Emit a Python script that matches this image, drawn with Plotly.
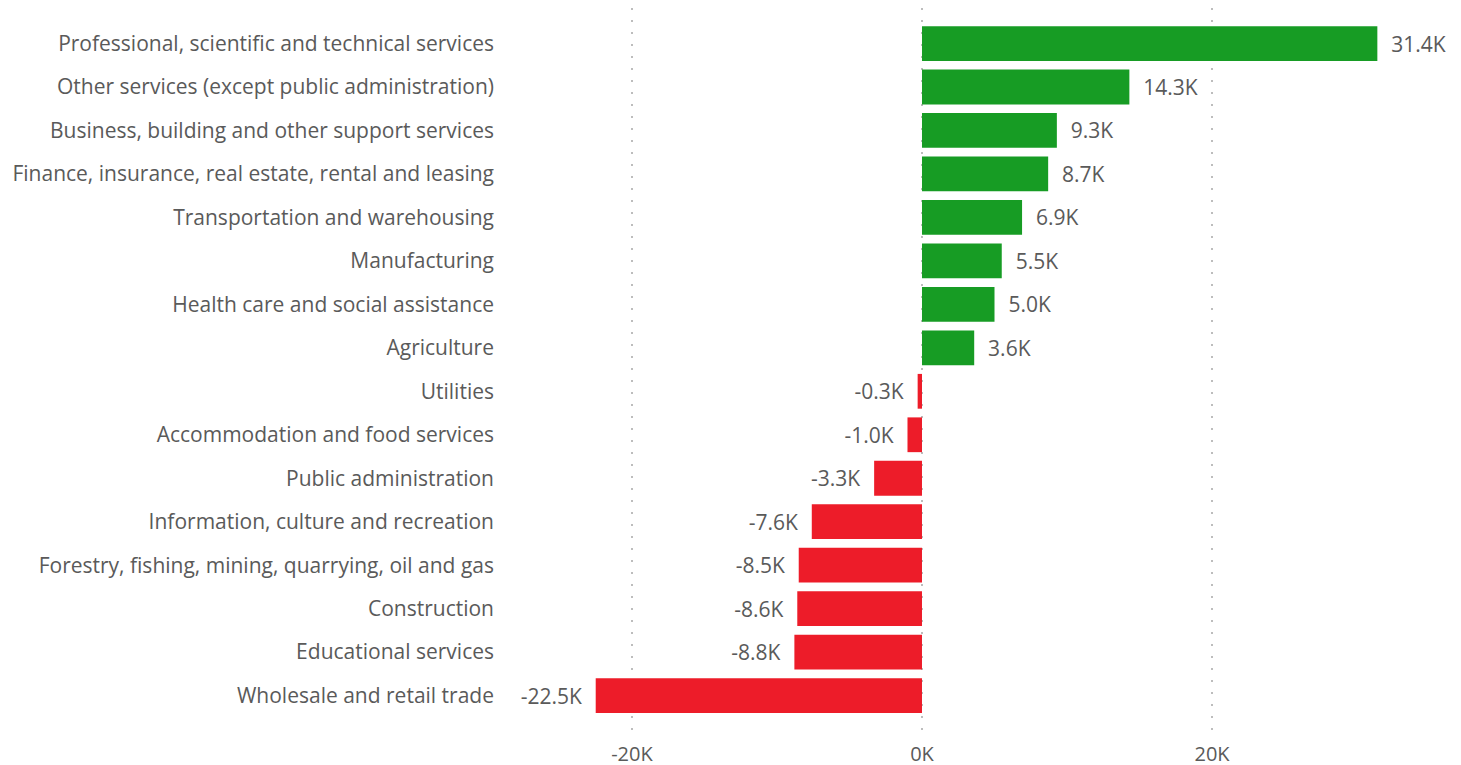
import plotly.graph_objects as go

categories = [
    "Professional, scientific and technical services",
    "Other services (except public administration)",
    "Business, building and other support services",
    "Finance, insurance, real estate, rental and leasing",
    "Transportation and warehousing",
    "Manufacturing",
    "Health care and social assistance",
    "Agriculture",
    "Utilities",
    "Accommodation and food services",
    "Public administration",
    "Information, culture and recreation",
    "Forestry, fishing, mining, quarrying, oil and gas",
    "Construction",
    "Educational services",
    "Wholesale and retail trade",
]
values_k = [31.4, 14.3, 9.3, 8.7, 6.9, 5.5, 5.0, 3.6, -0.3, -1.0, -3.3, -7.6, -8.5, -8.6, -8.8, -22.5]
tick_vals = [-20, 0, 20]
tick_text = ["-20K", "0K", "20K"]

GREEN = "#179c24"
RED = "#ed1c29"
colors = [GREEN if v >= 0 else RED for v in values_k]
PAD = "\u00a0\u00a0"
labels = [(PAD + f"{v:.1f}K") if v >= 0 else (f"{v:.1f}K" + PAD) for v in values_k]

FONT = "Open Sans"
TXT = "#5a5a5a"

fig = go.Figure(go.Bar(
    x=values_k, y=categories, orientation="h",
    marker=dict(color=colors, line=dict(width=0)),
    text=labels, textposition="outside", cliponaxis=False,
    textfont=dict(family=FONT, size=21, color=TXT),
    width=0.8,
))

fig.update_layout(
    width=1461, height=765,
    margin=dict(l=502, r=0, t=0, b=40),
    plot_bgcolor="white", paper_bgcolor="white",
    showlegend=False,
    font=dict(family=FONT, size=21, color=TXT),
    xaxis=dict(
        range=[-28.41, 37.72],
        tickvals=tick_vals, ticktext=tick_text,
        showgrid=True, gridcolor="#bdbdbd", gridwidth=2, griddash="2px,10px",
        zeroline=False, showline=False, ticks="",
        ticklabelstandoff=7,
        tickfont=dict(family=FONT, size=20, color=TXT),
    ),
    yaxis=dict(
        autorange=False, range=[15.86, -0.817],
        showgrid=False, zeroline=False, showline=False, ticks="",
        ticklabelstandoff=15,
        tickfont=dict(family=FONT, size=21, color=TXT),
    ),
)

fig.write_html("out.html")
